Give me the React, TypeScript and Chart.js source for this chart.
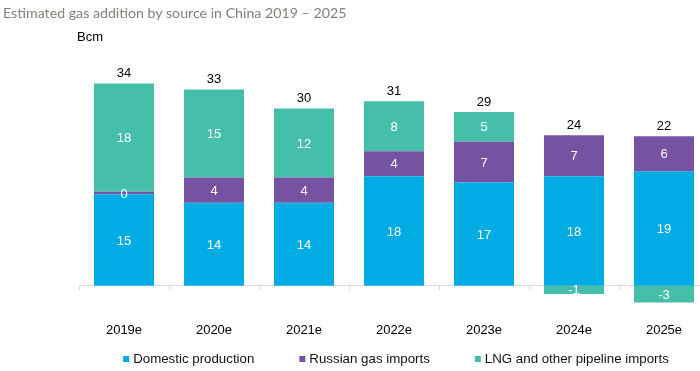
import React, { useEffect, useRef } from "react";
import { Chart, registerables } from "chart.js";

Chart.register(...registerables);

const categories = ["2019e", "2020e", "2021e", "2022e", "2023e", "2024e", "2025e"];
const domestic = [15.4, 13.95, 13.95, 18.4, 17.4, 18.4, 19.2];
const russian = [0.4, 4.25, 4.25, 4.2, 6.8, 6.9, 5.95];
const lng = [18.2, 14.8, 11.6, 8.4, 5.0, -1.4, -2.8];
const seriesNames = ["Domestic production", "Russian gas imports", "LNG and other pipeline imports"];
const seriesColors = ["#00ACE3", "#7652A3", "#45BFAA"];
const titleText = "Estimated gas addition by source in China 2019 \u2013 2025";
const unitText = "Bcm";

const FONT = "'Liberation Sans', Arial, sans-serif";

const labelPlugin = {
  id: "barLabels",
  afterDatasetsDraw(chart: any) {
    const ctx = chart.ctx;
    ctx.save();
    ctx.font = `13px ${FONT}`;
    ctx.textAlign = "center";
    ctx.textBaseline = "middle";
    chart.data.datasets.forEach((ds: any, di: number) => {
      const meta = chart.getDatasetMeta(di);
      meta.data.forEach((el: any, i: number) => {
        const v = ds.data[i];
        const cy = (el.y + el.base) / 2;
        ctx.fillStyle = "#ffffff";
        ctx.fillText(String(Math.round(v)), el.x, cy + 1);
      });
    });
    const yScale = chart.scales.y;
    const meta0 = chart.getDatasetMeta(0);
    categories.forEach((_, i) => {
      const vals = chart.data.datasets.map((d: any) => d.data[i]);
      const total = vals.reduce((a: number, b: number) => a + b, 0);
      const pos = vals.filter((v: number) => v > 0).reduce((a: number, b: number) => a + b, 0);
      const top = yScale.getPixelForValue(pos);
      ctx.fillStyle = "#000000";
      ctx.fillText(String(Math.round(total)), meta0.data[i].x, top - 10);
    });
    ctx.restore();
  },
};

// Legend drawn on the canvas from the datasets (custom spacing)
const legendPlugin = {
  id: "customLegend",
  afterDraw(chart: any) {
    const ctx = chart.ctx;
    const box = 6;
    const textGap = 4;
    const itemGap = 45;
    const centerX = 396;
    const cy = 359.5;
    ctx.save();
    ctx.font = `13.3px ${FONT}`;
    ctx.textBaseline = "middle";
    ctx.textAlign = "left";
    const items = chart.data.datasets.map((d: any) => ({
      text: d.label,
      color: d.backgroundColor,
      w: ctx.measureText(d.label).width,
    }));
    const total =
      items.reduce((a: number, it: any) => a + box + textGap + it.w, 0) + itemGap * (items.length - 1);
    let x = centerX - total / 2;
    items.forEach((it: any) => {
      ctx.fillStyle = it.color;
      ctx.fillRect(x, cy - box / 2 - 0.5, box, box);
      ctx.fillStyle = "#111111";
      ctx.fillText(it.text, x + box + textGap, cy);
      x += box + textGap + it.w + itemGap;
    });
    ctx.restore();
  },
};

export default function App() {
  const ref = useRef<HTMLCanvasElement>(null);
  useEffect(() => {
    if (!ref.current) return;
    const chart = new Chart(ref.current, {
      type: "bar",
      data: {
        labels: categories,
        datasets: [domestic, russian, lng].map((d, i) => ({
          label: seriesNames[i],
          data: d,
          backgroundColor: seriesColors[i],
          borderWidth: 0,
          categoryPercentage: 1,
          barPercentage: 0.667,
        })),
      },
      options: {
        animation: false,
        responsive: false,
        layout: { padding: { left: 79, right: 11, top: 71.6, bottom: 61 } },
        plugins: {
          legend: { display: false },
          tooltip: { enabled: false },
          title: { display: false },
        },
        scales: {
          x: {
            stacked: true,
            position: { y: 0 } as any,
            grid: { offset: true, drawOnChartArea: false, drawTicks: true, tickLength: 4, color: "#d9d9d9" },
            border: { display: true, color: "#d9d9d9", width: 1 },
            ticks: { color: "#000000", padding: 33, font: { family: FONT, size: 13 } },
          },
          y: {
            stacked: true,
            display: false,
            min: -4.08,
            max: 36,
          },
        },
      },
      plugins: [labelPlugin, legendPlugin],
    } as any);
    return () => chart.destroy();
  }, []);
  return (
    <div style={{ position: "absolute", left: 0, top: 0, width: 700, height: 371, overflow: "hidden", background: "#fff" }}>
      <canvas ref={ref} width={720} height={371} style={{ display: "block", position: "absolute", left: 0, top: 0 }} />
      <div style={{ position: "absolute", left: 3, top: 4, font: "14.2px Lato, sans-serif", color: "#858079", whiteSpace: "nowrap" }}>{titleText}</div>
      <div style={{ position: "absolute", left: 77, top: 29, font: `13px ${FONT}`, color: "#000" }}>{unitText}</div>
    </div>
  );
}
